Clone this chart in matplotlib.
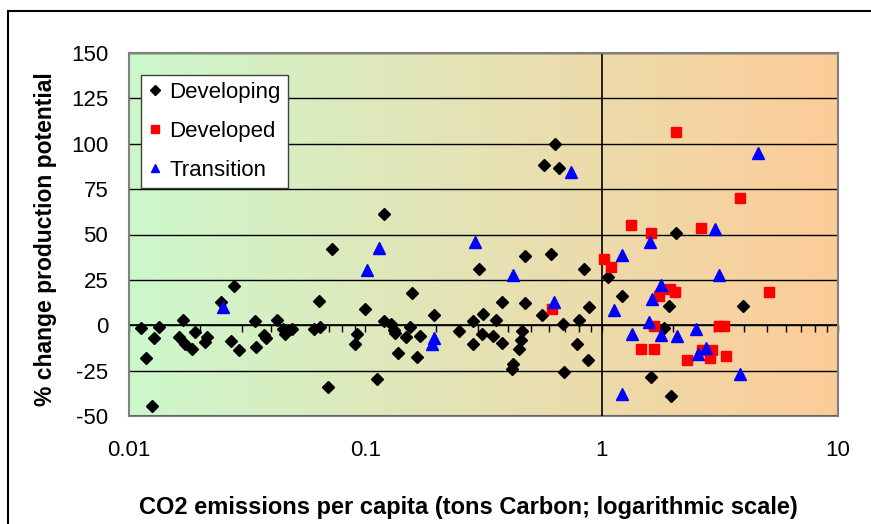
import numpy as np
import matplotlib
matplotlib.use('Agg')
import matplotlib.pyplot as plt
from matplotlib.patches import Rectangle
from matplotlib.colors import LinearSegmentedColormap

plt.rcParams['font.family'] = ['Liberation Sans', 'DejaVu Sans']
plt.rcParams['axes.unicode_minus'] = False

# CO2 emissions per capita (tons C) vs % change in production potential
dev_x = [0.0112, 0.0128, 0.0134, 0.0118, 0.0125, 0.0170, 0.0162, 0.0173, 0.0184, 0.0190,
         0.0210, 0.0214, 0.0245, 0.0279, 0.0270, 0.0293, 0.0342, 0.0345, 0.0381, 0.0371,
         0.0423, 0.0448, 0.0458, 0.0489, 0.0466, 0.0604, 0.0645, 0.0638, 0.0722, 0.0695,
         0.0923, 0.0906, 0.100, 0.1204, 0.112, 0.1196, 0.128, 0.132, 0.134, 0.137,
         0.148, 0.155, 0.158, 0.165, 0.171, 0.196, 0.249, 0.285, 0.285, 0.315,
         0.312, 0.302, 0.348, 0.356, 0.380, 0.380, 0.418, 0.42, 0.458, 0.454,
         0.449, 0.473, 0.476, 0.561, 0.570, 0.634, 0.659, 0.608, 0.686, 0.692,
         0.801, 0.784, 0.841, 0.875, 0.884, 1.06, 1.224, 1.93, 1.84, 2.06,
         3.95, 1.61, 1.96]
dev_y = [-1.5, -6.8, -0.9, -18.0, -44.4, 3.1, -6.4, -10.1, -12.9, -3.7,
         -9.2, -6.4, 12.8, 21.7, -8.6, -13.4, 2.2, -11.9, -7.3, -5.5,
         3.1, -1.8, -4.6, -1.8, -3.1, -1.8, -0.9, 13.4, 41.9, -34.0,
         -4.6, -10.5, 9.2, 61.2, -29.4, 2.4, 0.9, -2.8, -4.2, -15.2,
         -6.4, -0.9, 17.5, -17.4, -6.1, 5.5, -3.1, 2.4, -10.5, 6.1,
         -4.6, 31.2, -6.1, 3.1, 12.8, -9.8, -23.9, -21.5, -3.1, -8.3,
         -13.2, 38.2, 12.0, 5.5, 88.2, 100.1, 86.9, 39.5, 0.9, -25.7,
         2.8, -10.5, 31.2, -18.9, 10.1, 26.6, 16.0, 10.5, -1.3, 50.9,
         10.5, -28.5, -39.1]

dvd_x = [0.618, 1.023, 1.09, 1.327, 1.613, 2.059, 2.645, 3.85, 5.09, 1.94,
         2.04, 1.75, 1.67, 3.15, 3.3, 1.46, 1.66, 2.29, 2.67, 2.94,
         2.87, 3.35]
dvd_y = [9.2, 36.7, 32.1, 55.5, 50.9, 106.5, 53.6, 70.1, 18.3, 20.2,
         18.3, 16.0, -0.5, -0.4, -0.4, -12.9, -12.9, -18.9, -13.4, -13.8,
         -17.8, -17.1]

tr_x = [0.0251, 0.1017, 0.1138, 0.195, 0.191, 0.290, 0.421, 0.628, 0.739, 1.215,
        1.602, 4.57, 3.02, 3.14, 1.13, 1.64, 1.79, 1.58, 1.35, 1.79,
        2.09, 2.50, 2.56, 2.76, 3.85, 1.215]
tr_y = [10.0, 30.3, 42.8, -7.3, -10.5, 45.9, 27.5, 12.8, 84.5, 38.6,
        45.9, 94.9, 53.3, 27.5, 8.6, 14.7, 22.0, 1.8, -4.6, -5.5,
        -6.1, -1.8, -16.1, -12.5, -26.6, -38.0]

xticks = [0.01, 0.1, 1, 10]
xtick_labels = ['0.01', '0.1', '1', '10']
yticks = [-50, -25, 0, 25, 50, 75, 100, 125, 150]

fig = plt.figure(figsize=(8.71, 5.24), dpi=100)
ax = fig.add_axes([129 / 871, 1 - 416 / 524, 709 / 871, 363 / 524])

# outer chart frame
fig.patches.append(Rectangle((7.5 / 871, -0.1), 1.2, 0.1 + 1 - 11.5 / 524,
                             transform=fig.transFigure, fill=False,
                             edgecolor='black', lw=1.5, clip_on=False))

ax.set_xscale('log')
ax.set_xlim(0.01, 10)
ax.set_ylim(-50, 150)

# green -> orange background
cmap = LinearSegmentedColormap.from_list('bg', ['#ccf8cc', '#e6e2b4', '#fccc98'])
ax.imshow(np.linspace(0, 1, 256).reshape(1, -1), cmap=cmap, aspect='auto',
          extent=[0, 1, 0, 1], transform=ax.transAxes, zorder=0)

ax.set_yticks(yticks)
ax.yaxis.grid(True, color='black', lw=1.0)
ax.set_axisbelow(True)
ax.tick_params(axis='y', length=0, pad=15, labelsize=16)

for s in ['top', 'right', 'left']:
    ax.spines[s].set_color('#808080')
    ax.spines[s].set_linewidth(1.5)
ax.spines['bottom'].set_position(('data', 0))
ax.spines['bottom'].set_color('black')
ax.spines['bottom'].set_linewidth(1.2)
ax.spines['bottom'].set_zorder(2)
ax.set_xticks(xticks)
ax.tick_params(axis='x', which='both', direction='out', labelbottom=False,
               length=5, width=1)
ax.axvline(1, color='black', lw=1.2, zorder=2)

sec = ax.secondary_xaxis(0)
sec.set_xticks(xticks, labels=xtick_labels)
sec.xaxis.set_minor_locator(matplotlib.ticker.NullLocator())
sec.tick_params(axis='x', length=0, pad=17.5, labelsize=16)
sec.spines['bottom'].set_color('#808080')
sec.spines['bottom'].set_linewidth(1.5)

ax.set_xlabel('CO2 emissions per capita (tons Carbon; logarithmic scale)',
              fontsize=17, fontweight='bold')
ax.xaxis.set_label_coords(0.478, -0.22)

ax.set_ylabel('% change production potential', fontsize=16.5, fontweight='bold',
              va='center')
ax.yaxis.set_label_coords(-0.118, 0.488)

ax.plot(dev_x, dev_y, 'D', color='black', ms=6.5, ls='none', label='Developing', zorder=4)
ax.plot(dvd_x, dvd_y, 's', color='#ff0000', ms=7, ls='none', label='Developed', zorder=4)
ax.plot(tr_x, tr_y, '^', color='#0000ff', ms=8.5, ls='none', label='Transition', zorder=4)

leg = ax.legend(loc='upper left', bbox_to_anchor=(0.0165, 0.939), borderaxespad=0,
                fontsize=16, fancybox=False, framealpha=1, edgecolor='#404040',
                markerscale=0.75, handlelength=0.7, handletextpad=0.3,
                labelspacing=0.82, borderpad=0.3)
leg.get_frame().set_linewidth(1.0)

fig.savefig('out.png', dpi=100)
